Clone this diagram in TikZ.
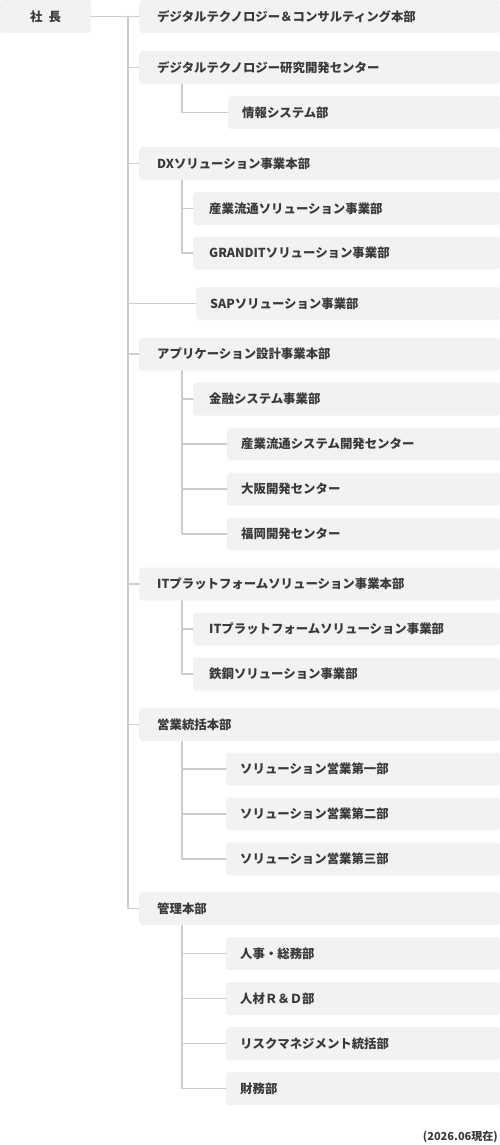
\documentclass[tikz,border=0pt]{standalone}
\usepackage{fontspec}
\setmainfont{Noto Sans CJK JP}
\definecolor{boxgray}{HTML}{F2F2F2}
\definecolor{linegray}{HTML}{CCCCCC}
\definecolor{textgray}{HTML}{3A3A3A}
\begin{document}
\begin{tikzpicture}[x=1pt, y=-1pt, font=\bfseries\fontsize{12.4}{14}\selectfont, line join=round, line cap=round,
		box/.style={fill=boxgray, rounded corners=3pt, minimum height=33pt, inner ysep=0pt, text=textgray, align=left, anchor=west},
		lvone/.style={box, inner xsep=18pt, text width=325pt},
		lvtwo/.style={box, inner xsep=16pt, text width=275pt},
		lvsap/.style={box, inner xsep=14pt, text width=276pt},
		lvthree/.style={box, inner xsep=14pt, text width=#1},
		lvthree/.default=246pt,
		link/.style={draw=linegray, line width=1.2pt}]
				\useasboundingbox (0,0) rectangle (500,1145);
				\node[box, anchor=center, minimum width=91pt] (president) at (45.5,16.5) {社\hspace{0.5em}長};
				\node[lvone] (dtc) at (139,16.5) {デジタルテクノロジー＆コンサルティング本部};
				\node[lvone] (dtlab) at (139,67.5) {デジタルテクノロジー研究開発センター};
				\node[lvthree=244pt] (infosys) at (228,112.5) {情報システム部};
				\node[lvone] (dx) at (139,163.5) {DXソリューション事業本部};
				\node[lvtwo] (dxind) at (193,208.5) {産業流通ソリューション事業部};
				\node[lvtwo] (grandit) at (193,253) {GRANDITソリューション事業部};
				\node[lvsap] (sap) at (196,303.5) {SAPソリューション事業部};
				\node[lvone] (app) at (139,354) {アプリケーション設計事業本部};
				\node[lvtwo] (fin) at (193,399) {金融システム事業部};
				\node[lvthree=245pt] (appind) at (227,444) {産業流通システム開発センター};
				\node[lvthree=245pt] (osaka) at (227,489) {大阪開発センター};
				\node[lvthree=245pt] (fukuoka) at (227,534) {福岡開発センター};
				\node[lvone] (itp) at (139,584) {ITプラットフォームソリューション事業本部};
				\node[lvtwo] (itpdiv) at (193,629) {ITプラットフォームソリューション事業部};
				\node[lvtwo] (steel) at (193,674) {鉄鋼ソリューション事業部};
				\node[lvone] (sales) at (139,724.5) {営業統括本部};
				\node[lvthree] (salesone) at (226,769) {ソリューション営業第一部};
				\node[lvthree] (salestwo) at (226,814) {ソリューション営業第二部};
				\node[lvthree] (salesthree) at (226,859) {ソリューション営業第三部};
				\node[lvone] (admin) at (139,908.5) {管理本部};
				\node[lvthree] (hr) at (226,953.5) {人事・総務部};
				\node[lvthree] (rd) at (226,998.5) {人材Ｒ＆Ｄ部};
				\node[lvthree] (risk) at (226,1043.5) {リスクマネジメント統括部};
				\node[lvthree] (finance) at (226,1088.5) {財務部};
				\node[text=textgray, anchor=east, inner sep=0pt, font=\bfseries\fontsize{11}{13}\selectfont] (asof) at (498,1137) {(2026.06現在)};
				\coordinate (trunk) at (128,16.5);
				\draw[link] (president.east) -- (dtc.west);
				\draw[link] (trunk) |- (admin.west);
				\foreach \n in {dtlab,dx,sap,app,itp,sales}
					\draw[link] (trunk |- \n.west) -- (\n.west);
				\draw[link] ([xshift=43pt]dtlab.south west) |- (infosys.west);
				\coordinate (dxstem) at ([xshift=43pt]dx.south west);
				\draw[link] (dxstem) |- (grandit.west);
				\draw[link] (dxstem |- dxind.west) -- (dxind.west);
				\coordinate (appstem) at ([xshift=43pt]app.south west);
				\draw[link] (appstem) |- (fukuoka.west);
				\foreach \n in {fin,appind,osaka}
					\draw[link] (appstem |- \n.west) -- (\n.west);
				\coordinate (itpstem) at ([xshift=43pt]itp.south west);
				\draw[link] (itpstem) |- (steel.west);
				\draw[link] (itpstem |- itpdiv.west) -- (itpdiv.west);
				\coordinate (salesstem) at ([xshift=43pt]sales.south west);
				\draw[link] (salesstem) |- (salesthree.west);
				\foreach \n in {salesone,salestwo}
					\draw[link] (salesstem |- \n.west) -- (\n.west);
				\coordinate (adminstem) at ([xshift=43pt]admin.south west);
				\draw[link] (adminstem) |- (finance.west);
				\foreach \n in {hr,rd,risk}
					\draw[link] (adminstem |- \n.west) -- (\n.west);
			\end{tikzpicture}
\end{document}
